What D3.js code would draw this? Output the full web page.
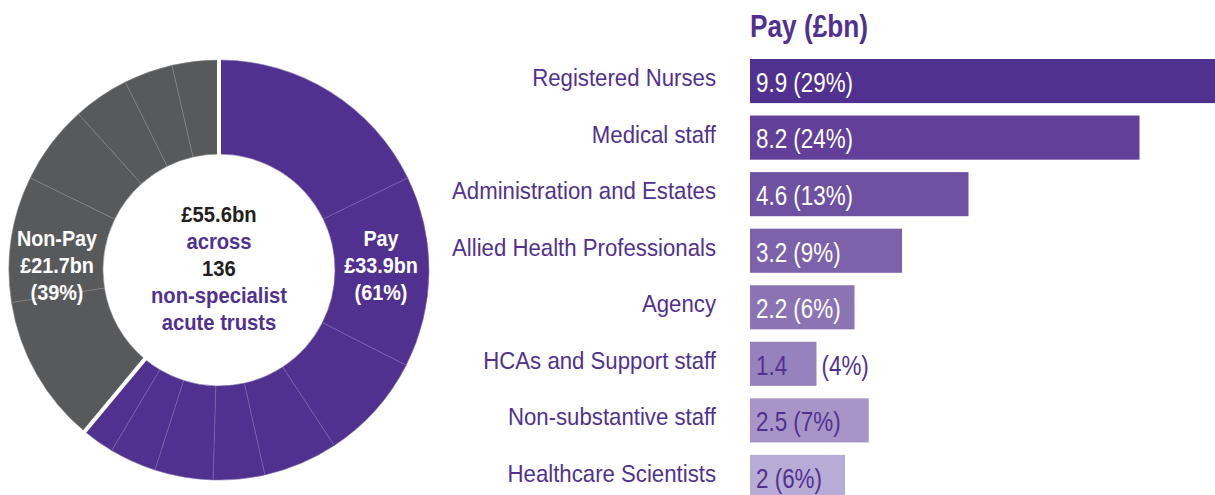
<!DOCTYPE html>
<html>
<head>
<meta charset="utf-8">
<script src="https://cdn.jsdelivr.net/npm/d3@7"></script>
<style>
  html, body { margin: 0; padding: 0; background: #fff; }
  svg { display: block; }
  text { font-family: "Liberation Sans", Arial, Helvetica, sans-serif; }
</style>
</head>
<body>
<svg id="chart" width="1215" height="495"></svg>
<script>
// ---- data ----
const categories = ["Registered Nurses", "Medical staff", "Administration and Estates",
  "Allied Health Professionals", "Agency", "HCAs and Support staff",
  "Non-substantive staff", "Healthcare Scientists"];
const payValues = [9.9, 8.2, 4.6, 3.2, 2.2, 1.4, 2.5, 2];
const payShares = [29, 24, 13, 9, 6, 4, 7, 6];
const barColors = ["#51318f", "#623f99", "#6e52a1", "#7b62aa", "#8a74b4", "#9683bd", "#a795c8", "#b8abd6"];
// donut order of pay segments (clockwise from top)
const donutPayOrder = ["Registered Nurses", "Medical staff", "Administration and Estates",
  "Allied Health Professionals", "Agency", "Non-substantive staff",
  "Healthcare Scientists", "HCAs and Support staff"];
const nonPayValues = [6.4, 5.4, 3.4, 2.4, 2.1, 2.0];
const centerLines = [
  {text: "£55.6bn", dark: true},
  {text: "across", dark: false},
  {text: "136", dark: true},
  {text: "non-specialist", dark: false},
  {text: "acute trusts", dark: false}];
const payLabel = ["Pay", "£33.9bn", "(61%)"];
const nonPayLabel = ["Non-Pay", "£21.7bn", "(39%)"];
const title = "Pay (£bn)";

const PURPLE = "#51318f", GREY = "#58595b";
const svg = d3.select("#chart");

// condensed text helper: horizontally scaled real text
function ctext(parent, x, y, str, o) {
  const gg = parent.append("g")
    .attr("transform", `translate(${x},${y}) scale(${o.sx},1)`);
  const t = gg.append("text")
    .attr("x", 0).attr("y", 0)
    .attr("dy", o.dy == null ? "0.35em" : o.dy)
    .attr("text-anchor", o.anchor || "start")
    .attr("font-size", o.size)
    .attr("font-weight", o.bold ? "bold" : "normal")
    .attr("fill", o.fill)
    .text(str);
  return t;
}

// ---- donut ----
const cx = 219, cy = 270, rOuter = 210, rInner = 116;
const segs = donutPayOrder.map(c => ({group: "pay", value: payValues[categories.indexOf(c)]}))
  .concat(nonPayValues.map(v => ({group: "non", value: v})));
const pie = d3.pie().sort(null).value(d => d.value);
const arcs = pie(segs);
const arc = d3.arc().innerRadius(rInner).outerRadius(rOuter);
const g = svg.append("g").attr("transform", `translate(${cx},${cy})`);
g.selectAll("path.seg").data(arcs).join("path")
  .attr("class", "seg")
  .attr("d", arc)
  .attr("fill", d => d.data.group === "pay" ? PURPLE : GREY)
  .attr("stroke", d => d.data.group === "pay" ? "#7a64ac" : "#86878a")
  .attr("stroke-width", 0.6);
// white separators between pay and non-pay
const payEnd = arcs.filter(a => a.data.group === "pay").slice(-1)[0].endAngle;
[0, payEnd].forEach(a => {
  g.append("line")
    .attr("x1", Math.sin(a) * (rInner - 2)).attr("y1", -Math.cos(a) * (rInner - 2))
    .attr("x2", Math.sin(a) * (rOuter + 2)).attr("y2", -Math.cos(a) * (rOuter + 2))
    .attr("stroke", "#fff").attr("stroke-width", 4);
});
// center text
const lineH = 27;
centerLines.forEach((d, i) => {
  ctext(g, 0, (i - 2) * lineH - 1.5, d.text,
    {sx: 0.92, size: 22, bold: true, anchor: "middle", fill: d.dark ? "#231f20" : PURPLE});
});
// group labels
function groupLabel(lines, x) {
  lines.forEach((d, i) => {
    ctext(svg, x, cy - 32 + i * lineH, d, {sx: 0.9, size: 22, bold: true, anchor: "middle", fill: "#fff"});
  });
}
groupLabel(payLabel, 381);
groupLabel(nonPayLabel, 57);

// ---- bars ----
const x = d3.scaleLinear().domain([0, 10]).range([750, 1225]);
const y = d3.scaleBand().domain(categories).range([59, 499]).paddingInner(0.22).paddingOuter(0);
ctext(svg, 750, 37, title, {sx: 0.82, size: 32, bold: true, fill: PURPLE, dy: "0"});
const bars = svg.append("g");
bars.selectAll("rect").data(categories).join("rect")
  .attr("x", x(0))
  .attr("y", d => y(d))
  .attr("width", (d, i) => x(payValues[i]) - x(0))
  .attr("height", y.bandwidth())
  .attr("fill", (d, i) => barColors[i]);
// category labels
categories.forEach(c => {
  ctext(svg, 716, y(c) + y.bandwidth() / 2 - 3.5, c, {sx: 0.925, size: 24, anchor: "end", fill: PURPLE});
});
// value labels
const VSX = 0.8, VSIZE = 28;
categories.forEach((c, i) => {
  const col = d3.hsl(barColors[i]).l > 0.6 ? PURPLE : "#fff";
  const full = `${payValues[i]} (${payShares[i]}%)`;
  const yy = y(c) + y.bandwidth() / 2 + 1;
  const barW = x(payValues[i]) - x(0);
  const t = ctext(svg, x(0) + 6, yy, full, {sx: VSX, size: VSIZE, fill: col});
  if (t.node().getComputedTextLength() * VSX > barW - 8) {
    t.text(`${payValues[i]}`);
    ctext(svg, x(payValues[i]) + 5, yy, `(${payShares[i]}%)`, {sx: VSX, size: VSIZE, fill: PURPLE});
  }
});
</script>
</body>
</html>
